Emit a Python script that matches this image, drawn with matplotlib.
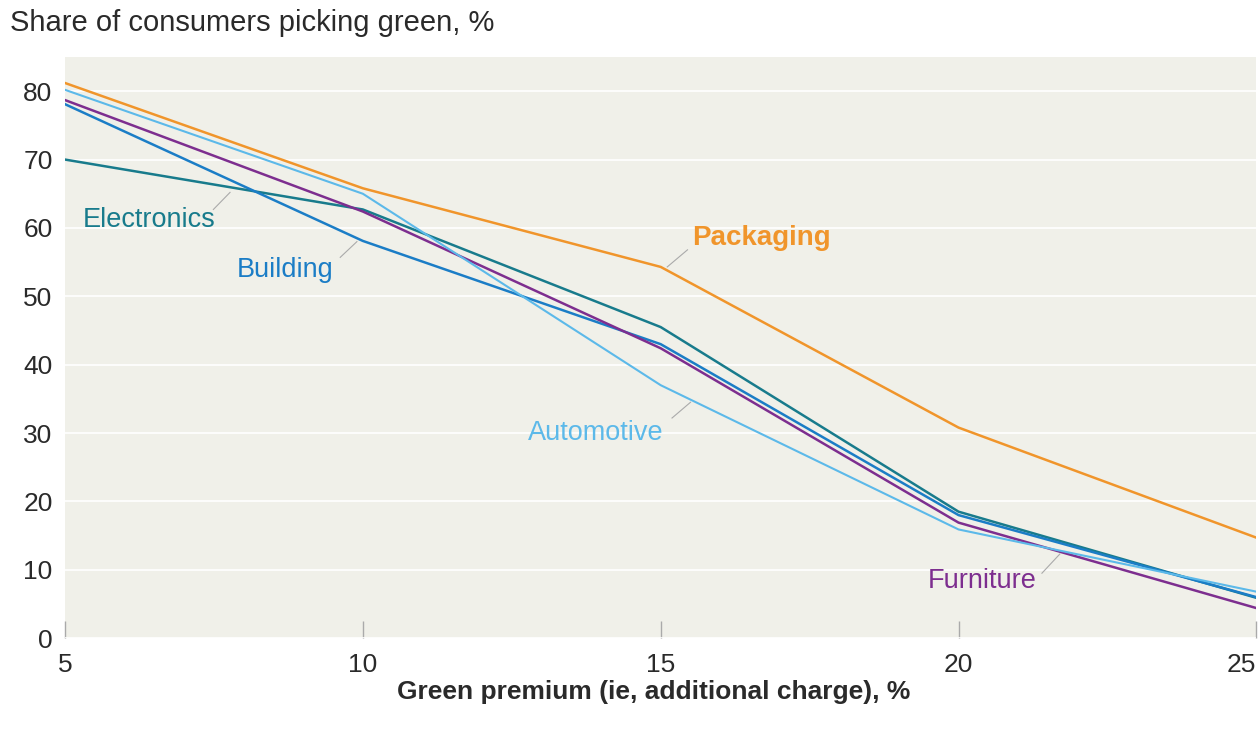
import matplotlib.pyplot as plt

plt.rcParams['font.family'] = ['Liberation Sans', 'DejaVu Sans']

premium = [5, 10, 15, 20, 25]

packaging = [81.2, 65.8, 54.3, 30.8, 14.7]
automotive = [80.2, 65.0, 37.0, 15.9, 6.8]
furniture = [78.7, 62.4, 42.4, 16.9, 4.4]
building = [78.1, 58.1, 43.0, 18.0, 6.0]
electronics = [70.0, 62.7, 45.5, 18.5, 5.9]

x_ticks = [5, 10, 15, 20, 25]
y_ticks = [0, 10, 20, 30, 40, 50, 60, 70, 80]

c_pack = '#F0952B'
c_auto = '#5CB9E9'
c_furn = '#7D2E8F'
c_build = '#1B7DC6'
c_elec = '#187B8C'

fig = plt.figure(figsize=(12.58, 7.31), dpi=100)
ax = fig.add_axes([0.0517, 0.127, 0.947, 0.795])
ax.set_facecolor('#F0F0E9')

ax.plot(premium, electronics, color=c_elec, lw=1.8, zorder=3)
ax.plot(premium, building, color=c_build, lw=1.8, zorder=3)
ax.plot(premium, furniture, color=c_furn, lw=1.8, zorder=3)
ax.plot(premium, automotive, color=c_auto, lw=1.5, zorder=3)
ax.plot(premium, packaging, color=c_pack, lw=1.8, zorder=3)

ax.set_xlim(5, 25)
ax.set_ylim(0, 85)
ax.set_xticks(x_ticks)
ax.set_yticks(y_ticks)
ax.grid(axis='y', color='white', lw=1.2, zorder=1)
for s in ax.spines.values():
    s.set_visible(False)
ax.tick_params(axis='y', length=0, labelsize=19, pad=9, labelcolor='#2a2a2a')
ax.tick_params(axis='x', direction='in', length=12, width=1, color='#aaaaaa',
               labelsize=19, pad=11, labelcolor='#2a2a2a')
# last tick label sits flush with the right edge
ax.get_xticklabels()[-1].set_horizontalalignment('right')
ax.get_xticklabels()[-1].set_x(25.02)

# labels with small leader lines
lead = dict(color='#aaaaaa', lw=0.8, zorder=2)
ax.plot([7.49, 7.77], [62.7, 65.2], **lead)
ax.text(5.3, 61.1, 'Electronics', color=c_elec, fontsize=19.5, va='center')
ax.plot([9.62, 9.9], [55.7, 58.0], **lead)
ax.text(7.89, 53.9, 'Building', color=c_build, fontsize=19.5, va='center')
ax.plot([15.11, 15.45], [54.3, 56.8], **lead)
ax.text(15.53, 58.6, 'Packaging', color=c_pack, fontsize=20, fontweight='bold', va='center')
ax.plot([15.19, 15.5], [32.2, 34.5], **lead)
ax.text(12.77, 30.0, 'Automotive', color=c_auto, fontsize=19.5, va='center')
ax.plot([21.4, 21.7], [9.5, 12.3], **lead)
ax.text(19.49, 8.4, 'Furniture', color=c_furn, fontsize=19.5, va='center')

fig.text(0.008, 0.969, 'Share of consumers picking green, %', fontsize=21,
         color='#2a2a2a', va='center', ha='left')
fig.text(0.52, 0.054, 'Green premium (ie, additional charge), %', fontsize=19,
         fontweight='bold', color='#2a2a2a', va='center', ha='center')

fig.savefig('out.png', dpi=100)
